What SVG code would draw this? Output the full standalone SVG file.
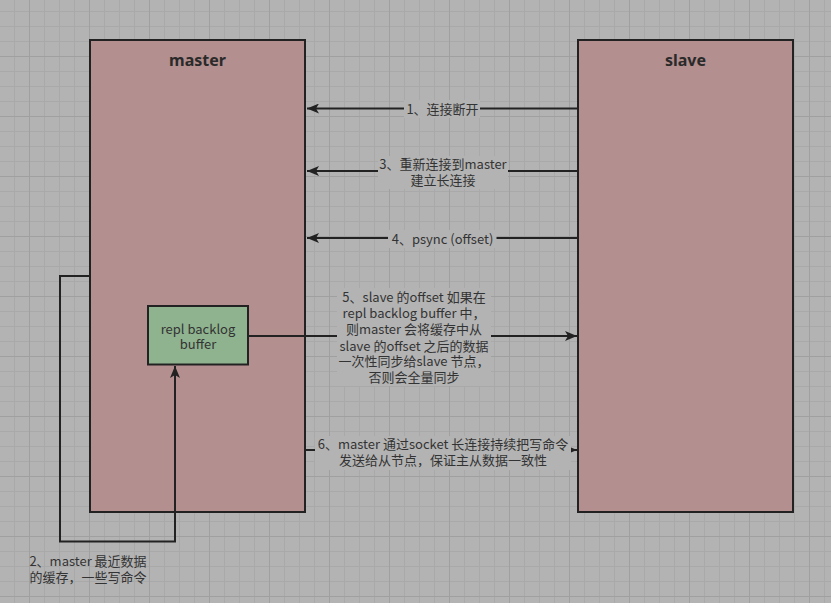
<svg xmlns="http://www.w3.org/2000/svg" width="831" height="603" viewBox="0 0 831 603">
<style>
.node{stroke:#222;stroke-width:2}
.big{fill:#b48f8f}
.green{fill:#8fb38f}
.title{font-family:"Noto Sans","Noto Sans CJK SC",sans-serif;font-size:16px;font-weight:bold;fill:#2a2a2a;text-anchor:middle}
.lbl{font-family:"Noto Sans CJK SC","Noto Sans",sans-serif;font-size:13px;fill:#333;text-anchor:middle}
.edge{fill:none;stroke:#222;stroke-width:2}
.lbg{fill:#b3b3b3}
</style>
<defs>
<pattern id="grid" patternUnits="userSpaceOnUse" x="29" y="56" width="60" height="60">
<path d="M15.5,0V60M30.5,0V60M45.5,0V60M0,15.5H60M0,30.5H60M0,45.5H60" stroke="#a9a9a9" stroke-width="1" fill="none"/>
<path d="M0.5,0V60M0,0.5H60" stroke="#a0a0a0" stroke-width="1" fill="none"/>
</pattern>
<marker id="arr" markerUnits="userSpaceOnUse" markerWidth="13" markerHeight="10" refX="12" refY="5" orient="auto">
<path d="M0,0 L12,5 L0,10 L3,5 Z" fill="#222"/>
</marker>
</defs>
<rect width="831" height="603" fill="#b3b3b3"/>
<rect width="831" height="603" fill="url(#grid)"/>

<g id="master">
<rect class="node big" x="90" y="40" width="215" height="472"/>
<text class="title" x="197.5" y="65.5">master</text>
</g>
<g id="slave">
<rect class="node big" x="578" y="40" width="215" height="472"/>
<text class="title" x="685.5" y="65.5">slave</text>
</g>
<g id="repl-backlog-buffer">
<rect class="node green" x="148" y="306" width="100" height="58.5"/>
<text class="lbl" x="198" y="333.5">repl backlog<tspan x="198" dy="15">buffer</tspan></text>
</g>

<g id="connectors">
<path class="edge" d="M577,108.5H307" marker-end="url(#arr)"/>
<rect class="lbg" x="404" y="100" width="76" height="18"/>
<text class="lbl" x="442.5" y="113.5">1、连接断开</text>

<path class="edge" d="M577,171H307" marker-end="url(#arr)"/>
<rect class="lbg" x="378" y="156" width="130" height="33"/>
<text class="lbl" x="443" y="169">3、重新连接到master<tspan x="443" dy="16">建立长连接</tspan></text>

<path class="edge" d="M577,238H307" marker-end="url(#arr)"/>
<rect class="lbg" x="388" y="230" width="108.5" height="18"/>
<text class="lbl" x="442.5" y="243.5">4、psync (offset)</text>

<path class="edge" d="M249,336H577" marker-end="url(#arr)"/>
<rect class="lbg" x="337" y="288" width="154" height="98"/>
<text class="lbl" x="414" y="302">5、slave 的offset 如果在<tspan x="414" dy="16">repl backlog buffer 中，</tspan><tspan x="414" dy="16">则master 会将缓存中从</tspan><tspan x="414" dy="16.5">slave 的offset 之后的数据</tspan><tspan x="414" dy="15.5">一次性同步给slave 节点，</tspan><tspan x="414" dy="15.5">否则会全量同步</tspan></text>

<path class="edge" d="M306,450H577" marker-end="url(#arr)"/>
<rect class="lbg" x="315" y="436" width="256" height="34"/>
<text class="lbl" x="443" y="448.5">6、master 通过socket 长连接持续把写命令<tspan x="443" dy="16">发送给从节点，保证主从数据一致性</tspan></text>

<path class="edge" d="M89,276H60V541.5H175V366" marker-end="url(#arr)"/>
<text class="lbl" x="88" y="566">2、master 最近数据<tspan x="88" dy="16">的缓存，一些写命令</tspan></text>
</g>
</svg>
